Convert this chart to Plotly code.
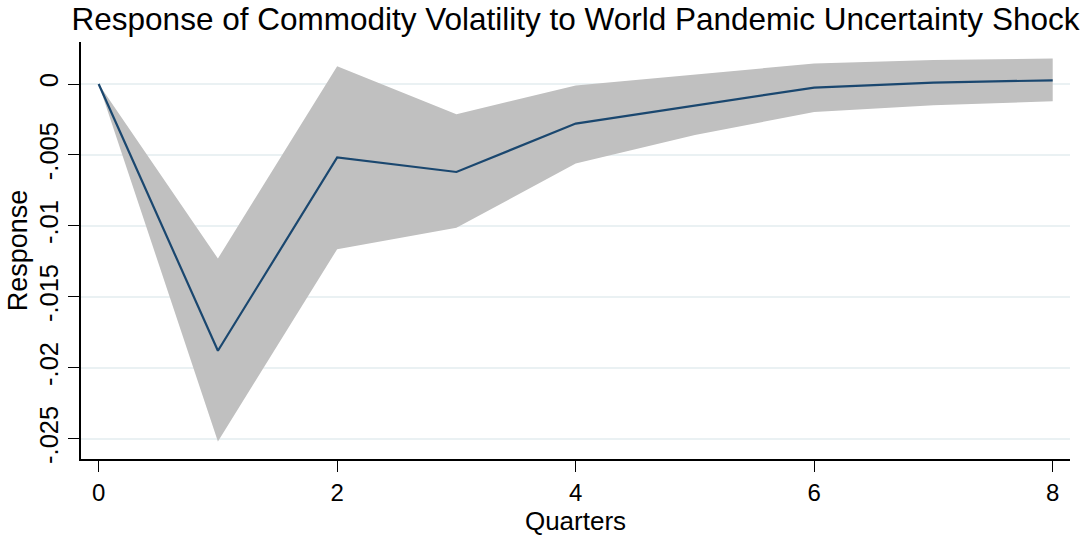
import plotly.graph_objects as go

quarters = [0, 1, 2, 3, 4, 5, 6, 7, 8]
response = [0.0, -0.0188, -0.00518, -0.0062, -0.00279, -0.0015, -0.00025, 0.0001, 0.00026]
upper = [0.0, -0.0123, 0.00125, -0.00213, -0.0001, 0.00068, 0.00144, 0.0017, 0.00179]
lower = [0.0, -0.0252, -0.01164, -0.01014, -0.0056, -0.0036, -0.00197, -0.0015, -0.00122]

y_tickvals = [0, -0.005, -0.01, -0.015, -0.02, -0.025]
y_ticktext = ["0", "-.005", "-.01", "-.015", "-.02", "-.025"]
x_tickvals = [0, 2, 4, 6, 8]

title_text = "Response of Commodity Volatility to World Pandemic Uncertainty Shock"

fig = go.Figure()
fig.add_trace(go.Scatter(x=quarters, y=lower, mode="lines", line=dict(width=0, color="#C0C0C0"),
                         showlegend=False, hoverinfo="skip"))
fig.add_trace(go.Scatter(x=quarters, y=upper, mode="lines", line=dict(width=0, color="#C0C0C0"),
                         fill="tonexty", fillcolor="#C0C0C0", showlegend=False, hoverinfo="skip"))
fig.add_trace(go.Scatter(x=quarters, y=response, mode="lines", line=dict(width=2.2, color="#1A476F"),
                         showlegend=False))

font_family = "Liberation Sans, Arial, sans-serif"

fig.update_layout(
    width=1088, height=539,
    margin=dict(l=81, r=18, t=42, b=80, autoexpand=False),
    paper_bgcolor="white", plot_bgcolor="white",
    font=dict(family=font_family, color="black"),
    title=dict(text=title_text, x=0.5, xref="paper", xanchor="center",
               y=1 - 19 / 539, yref="container", yanchor="middle",
               font=dict(size=31.5, family=font_family, color="black")),
    xaxis=dict(range=[-0.148, 8.145], tickvals=x_tickvals, ticks="outside", ticklen=11,
               tickwidth=1.3, tickcolor="black", showline=True, linecolor="black", linewidth=1.5,
               showgrid=False, zeroline=False, tickfont=dict(size=24), automargin=False,
               title=dict(text="Quarters", font=dict(size=26), standoff=0)),
    yaxis=dict(range=[-0.02643, 0.00296], tickvals=y_tickvals, ticktext=y_ticktext,
               ticks="outside", ticklen=11, tickwidth=1.3, tickcolor="black",
               showline=True, linecolor="black", linewidth=1.5,
               showgrid=True, gridcolor="#EAF1F3", gridwidth=2, zeroline=False,
               tickangle=-90, tickfont=dict(size=25.5), automargin=False,
               title=dict(text="Response", font=dict(size=27), standoff=0)),
)

fig.write_html("out.html", config={"displayModeBar": False},
               post_script="document.body.style.margin='0';document.body.style.overflow='hidden';")
